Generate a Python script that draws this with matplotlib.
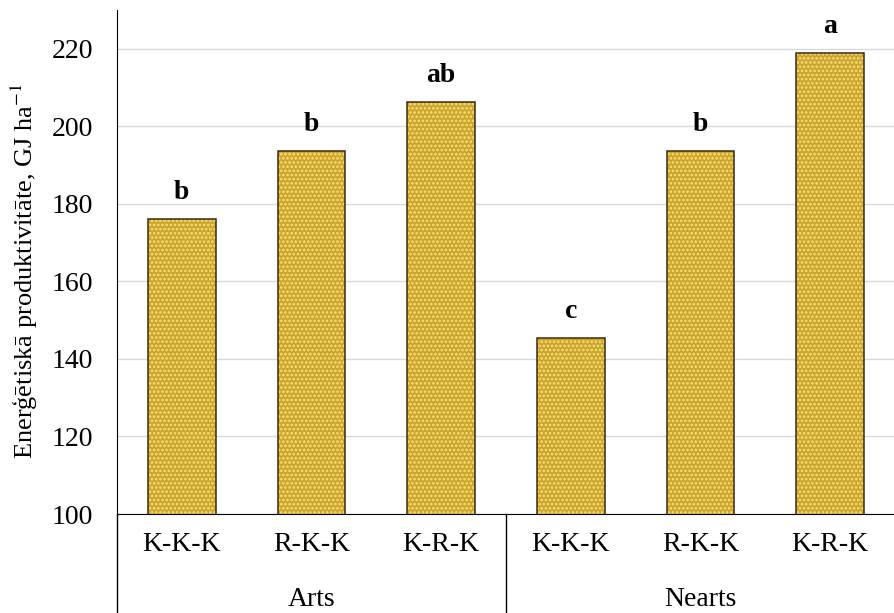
import numpy as np
import matplotlib.pyplot as plt
import matplotlib.transforms as mtransforms

plt.rcParams['font.family'] = ['Liberation Serif', 'DejaVu Serif']
plt.rcParams['mathtext.fontset'] = 'stix'
plt.rcParams['hatch.linewidth'] = 1.3

# Dati
groups = ["Arts", "Nearts"]
rotations = ["K-K-K", "R-K-K", "K-R-K", "K-K-K", "R-K-K", "K-R-K"]
productivity = [176.2, 193.6, 206.3, 145.5, 193.6, 218.8]
letters = ["b", "b", "ab", "c", "b", "a"]

fig = plt.figure(figsize=(8.95, 6.13), dpi=100)
W, H = 895, 613
ax = fig.add_axes([117 / W, (H - 514) / H, (W - 117) / W, (514 - 10) / H])

x = np.arange(len(rotations))
# fons ar punktu rakstu, tad kontūra atsevišķi
ax.bar(x, productivity, width=0.52, bottom=0, color='#CCA52A',
       edgecolor='#F5E07E', hatch='....', linewidth=0, zorder=2)
ax.bar(x, productivity, width=0.52, bottom=0, fill=False,
       edgecolor='#3B2A12', linewidth=1.1, zorder=3)

for xi, v, lab in zip(x, productivity, letters):
    ax.text(xi, v + 3.6, lab, ha='center', va='bottom',
            fontsize=20, fontweight='bold')

ax.set_ylim(100, 230)
ax.set_xlim(-0.5, 5.5)
ax.set_yticks(np.arange(100, 221, 20))
ax.yaxis.grid(True, color='#D9D9D9', linewidth=1)
ax.set_axisbelow(True)
ax.tick_params(axis='y', length=0, labelsize=20, pad=17)
ax.set_xticks(x, rotations)
ax.tick_params(axis='x', length=0, labelsize=20, pad=13)

for side in ['top', 'right']:
    ax.spines[side].set_visible(False)
ax.spines['left'].set_color('black')
ax.spines['bottom'].set_color('black')

# kategoriju atdalītāji zem ass
trans = mtransforms.blended_transform_factory(ax.transData, ax.transAxes)
depth = -(H - 514) / (514 - 10)
for xs in [-0.5, 2.5]:
    ax.plot([xs, xs], [0, depth], transform=trans, color='black',
            linewidth=1, clip_on=False)

for gi, g in enumerate(groups):
    ax.text(gi * 3 + 1, depth + 0.026, g, transform=trans,
            ha='center', va='center', fontsize=20)

fig.text(24 / W, 1 - 271 / H, 'Enerģētiskā produktivitāte, GJ ha$^{-1}$',
         rotation=90, ha='center', va='center', fontsize=19)

fig.savefig('out.png', dpi=100)
